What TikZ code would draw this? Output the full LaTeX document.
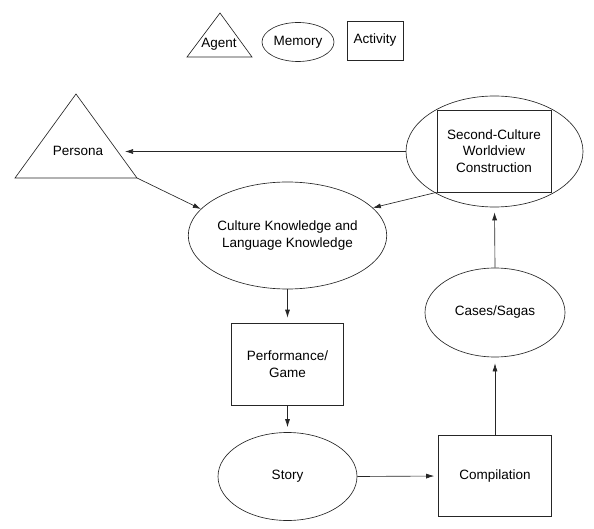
\documentclass[tikz,border=0pt]{standalone}
\usepackage{fontspec}
\setmainfont{Liberation Sans}
\usetikzlibrary{shapes.geometric,arrows.meta}
\begin{document}
\begin{tikzpicture}[x=1pt,y=-1pt,
  every node/.style={font=\fontsize{13.5}{16.5}\selectfont, align=center, inner sep=0pt},
  ln/.style={draw=black!85, line width=0.65pt},
  mem/.style={ln, ellipse},
  act/.style={ln, rectangle},
  arr/.style={ln, -{Latex[length=8pt,width=5pt]}},
]
\useasboundingbox (0,0) rectangle (594,529);
% legend
\coordinate (LA) at (220,13);
\coordinate (LB) at (187,57);
\coordinate (LC) at (252,57);
\draw[ln] (LA) -- (LB) -- (LC) -- cycle;
\node (agent) at (219,44) {Agent};
\node[mem, minimum width=72, minimum height=39] (memory) at (298,42) {Memory};
\node[act, minimum width=56, minimum height=39] (activity) at (375,40.5) {Activity};
% persona
\coordinate (PA) at (76,94);
\coordinate (PB) at (15,178);
\coordinate (PC) at (137,178);
\draw[ln] (PA) -- (PB) -- (PC) -- cycle;
\node (persona) at (78,151) {Persona};
\coordinate (personaR) at (125,151.5);
% nodes
\node[mem, minimum width=173, minimum height=107] (culture) at (287.5,235.5) {Culture Knowledge and\\Language Knowledge};
\node[act, minimum width=112, minimum height=82] (perf) at (287.5,364) {Performance/\\Game};
\node[mem, minimum width=139, minimum height=88] (story) at (287.5,476.5) {Story};
\node[act, minimum width=113, minimum height=81] (comp) at (495,476) {Compilation};
\node[mem, minimum width=140, minimum height=89] (cases) at (495,312.5) {Cases/Sagas};
\node[mem, minimum width=177, minimum height=111] (scw) at (494.5,151.5) {};
\node[act, minimum width=114, minimum height=82] (scwbox) at (494,151) {Second-Culture\\Worldview\\Construction};
% connectors
\draw[arr] (scw.west) -- (personaR);
\draw[arr] (PC) -- (culture.163);
\draw[arr] (scwbox.south west) -- (culture.18);
\draw[arr, shorten >=5pt] (culture.south) -- (perf.north);
\draw[arr, shorten >=5pt] (perf.south) -- (story.north);
\draw[arr, shorten >=4pt] (story.east) -- (comp.west);
\draw[arr, shorten >=6pt] (comp.north) -- (cases.south);
\draw[arr, shorten >=5pt] (cases.north) -- (scw.south);
\end{tikzpicture}
\end{document}
